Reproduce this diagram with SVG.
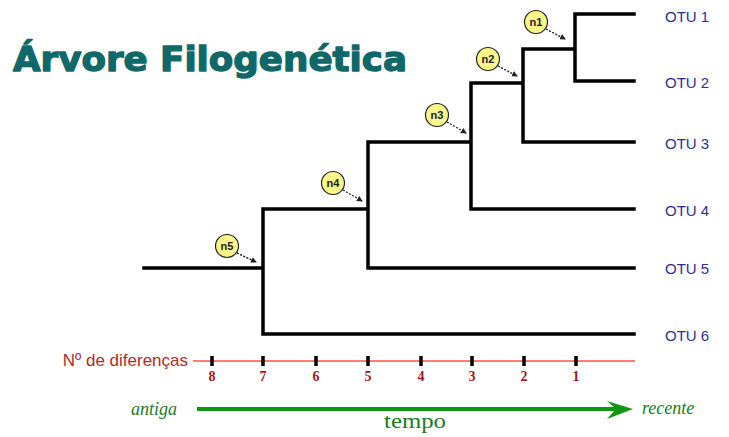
<svg xmlns="http://www.w3.org/2000/svg" width="729" height="437" viewBox="0 0 729 437">
<style>
.br{stroke:#000;stroke-width:3.5;fill:none;stroke-linecap:square;stroke-linejoin:miter}
.otu{font-family:"Liberation Sans",Arial,sans-serif;font-size:15px;fill:#2e2e94}
.nc{fill:#fbf68a;stroke:#222;stroke-width:1.2}
.nt{font-family:"Liberation Sans",Arial,sans-serif;font-size:11px;font-weight:bold;fill:#222;text-anchor:middle}
.pt{stroke:#222;stroke-width:1.4;stroke-dasharray:2 1.5;fill:none}
.tk{stroke:#000;stroke-width:3.5}
.num{font-family:"Liberation Serif","Times New Roman",serif;font-size:14px;font-weight:bold;fill:#a01818;text-anchor:middle}
.gi{font-family:"Liberation Serif","Times New Roman",serif;font-style:italic;font-size:18px;fill:#1d7a1d}
</style>
<defs>
<marker id="ah" viewBox="0 0 6 6" refX="5" refY="3" markerWidth="6" markerHeight="6" markerUnits="userSpaceOnUse" orient="auto">
<path d="M0,0 L6,3 L0,6 z" fill="#222"/>
</marker>
</defs>
<rect width="729" height="437" fill="#fff"/>
<text x="13" y="71" font-family="DejaVu Sans,Verdana,sans-serif" font-weight="bold" font-size="33" fill="#106868" stroke="#106868" stroke-width="1.3" stroke-linejoin="round" textLength="394" lengthAdjust="spacingAndGlyphs">Árvore Filogenética</text>
<g id="connectors">
<path class="br" d="M144,268 H263 M263,209 V334 H634 M263,209 H368 M368,142 V268 H634 M368,142 H471 M471,83 V209 H634 M471,83 H523 M523,49 V142 H634 M523,49 H575 M575,14 V81 H634 M575,14 H634"/>
</g>
<g id="n1"><circle class="nc" cx="536" cy="22" r="11.5"/><text class="nt" x="536" y="26">n1</text><path class="pt" d="M546,29 L565,39" marker-end="url(#ah)"/></g>
<g id="n2"><circle class="nc" cx="488" cy="59" r="11.5"/><text class="nt" x="488" y="63">n2</text><path class="pt" d="M498,66 L517,76" marker-end="url(#ah)"/></g>
<g id="n3"><circle class="nc" cx="437" cy="115" r="11.5"/><text class="nt" x="437" y="119">n3</text><path class="pt" d="M447,122 L466,133" marker-end="url(#ah)"/></g>
<g id="n4"><circle class="nc" cx="333" cy="183" r="11.5"/><text class="nt" x="333" y="187">n4</text><path class="pt" d="M343,190 L362,201" marker-end="url(#ah)"/></g>
<g id="n5"><circle class="nc" cx="227" cy="246" r="11.5"/><text class="nt" x="227" y="250">n5</text><path class="pt" d="M237,253 L256,262" marker-end="url(#ah)"/></g>
<g id="otu1"><text class="otu" x="665" y="22">OTU 1</text></g>
<g id="otu2"><text class="otu" x="665" y="88">OTU 2</text></g>
<g id="otu3"><text class="otu" x="665" y="149">OTU 3</text></g>
<g id="otu4"><text class="otu" x="665" y="216">OTU 4</text></g>
<g id="otu5"><text class="otu" x="665" y="274">OTU 5</text></g>
<g id="otu6"><text class="otu" x="665" y="341">OTU 6</text></g>
<g id="axis">
<text x="188" y="366" font-family="Liberation Sans,Arial,sans-serif" font-size="17" fill="#b02a2a" text-anchor="end">Nº de diferenças</text>
<line x1="193" y1="361" x2="635" y2="361" stroke="#ff5050" stroke-width="1.5"/>
<line class="tk" x1="212" y1="356" x2="212" y2="366"/>
<line class="tk" x1="263" y1="356" x2="263" y2="366"/>
<line class="tk" x1="316" y1="356" x2="316" y2="366"/>
<line class="tk" x1="368" y1="356" x2="368" y2="366"/>
<line class="tk" x1="421" y1="356" x2="421" y2="366"/>
<line class="tk" x1="472" y1="356" x2="472" y2="366"/>
<line class="tk" x1="524" y1="356" x2="524" y2="366"/>
<line class="tk" x1="576" y1="356" x2="576" y2="366"/>
<text class="num" x="212" y="381">8</text>
<text class="num" x="263" y="381">7</text>
<text class="num" x="316" y="381">6</text>
<text class="num" x="368" y="381">5</text>
<text class="num" x="421" y="381">4</text>
<text class="num" x="472" y="381">3</text>
<text class="num" x="524" y="381">2</text>
<text class="num" x="576" y="381">1</text>
</g>
<g id="tempo">
<text class="gi" x="177" y="415" text-anchor="end">antiga</text>
<line x1="197" y1="409" x2="622" y2="409" stroke="#149414" stroke-width="4"/>
<path d="M633,409 L607,401 L616,409 L607,419 z" fill="#149414"/>
<text class="gi" x="642" y="414">recente</text>
<text x="384" y="428" font-family="Liberation Serif,Times New Roman,serif" font-size="21" fill="#1d7a1d" textLength="62" lengthAdjust="spacingAndGlyphs">tempo</text>
</g>
</svg>
